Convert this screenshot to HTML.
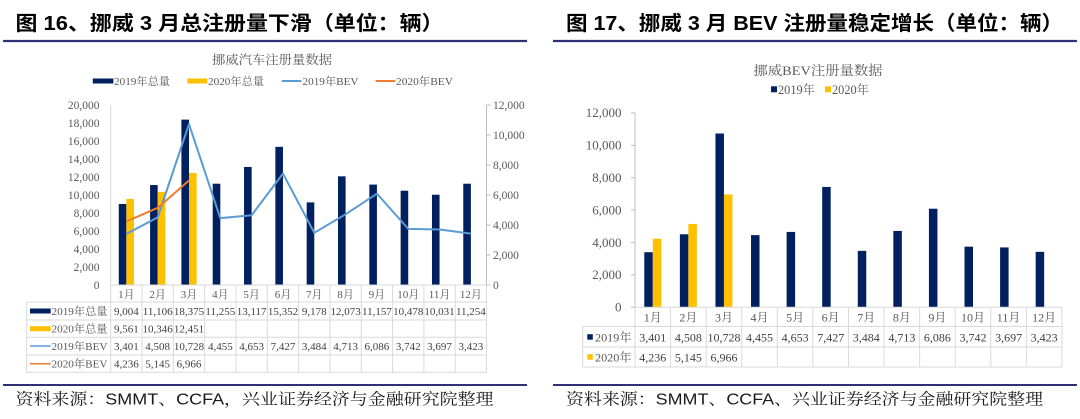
<!DOCTYPE html>
<html>
<head>
<meta charset="utf-8">
<style>
html,body{margin:0;padding:0;background:#fff;}
svg{display:block;}
.t{font-family:"Liberation Sans","Noto Sans CJK SC",sans-serif;font-weight:bold;fill:#000;}
.s{font-family:"Liberation Sans","Noto Serif CJK SC",serif;fill:#1a1a1a;}
.c{font-family:"Liberation Serif","Noto Serif CJK SC",serif;fill:#595959;}
.v{font-family:"Liberation Serif","Noto Serif CJK SC",serif;fill:#404040;}
</style>
</head>
<body>
<svg width="1080" height="419" viewBox="0 0 1080 419" xmlns="http://www.w3.org/2000/svg">
<rect width="1080" height="419" fill="#fff"/>

<!-- ============ LEFT PANEL ============ -->
<text class="t" x="15.5" y="30" font-size="20" textLength="428" lengthAdjust="spacingAndGlyphs">图 16、挪威 3 月总注册量下滑（单位：辆）</text>
<line x1="3" y1="41" x2="527" y2="41" stroke="#2E3272" stroke-width="2.2"/>

<text class="c" x="272" y="64" font-size="12.5" text-anchor="middle" textLength="120" lengthAdjust="spacingAndGlyphs">挪威汽车注册量数据</text>

<!-- legend -->
<rect x="92.8" y="78.5" width="20.6" height="5" fill="#002060"/>
<text class="c" x="114" y="85" font-size="11" textLength="56" lengthAdjust="spacingAndGlyphs">2019年总量</text>
<rect x="187.3" y="78.5" width="20" height="5" fill="#FFC000"/>
<text class="c" x="208" y="85" font-size="11" textLength="56" lengthAdjust="spacingAndGlyphs">2020年总量</text>
<line x1="281.8" y1="81" x2="301.4" y2="81" stroke="#5B9BD5" stroke-width="2"/>
<text class="c" x="302.5" y="85" font-size="11" textLength="56" lengthAdjust="spacingAndGlyphs">2019年BEV</text>
<line x1="375.6" y1="81" x2="395.2" y2="81" stroke="#ED7D31" stroke-width="2"/>
<text class="c" x="396" y="85" font-size="11" textLength="57" lengthAdjust="spacingAndGlyphs">2020年BEV</text>

<!-- left axis labels -->
<g class="c" font-size="11.5" text-anchor="end">
<text x="99.5" y="289">0</text>
<text x="99.5" y="271">2,000</text>
<text x="99.5" y="253">4,000</text>
<text x="99.5" y="235">6,000</text>
<text x="99.5" y="217">8,000</text>
<text x="99.5" y="199">10,000</text>
<text x="99.5" y="181">12,000</text>
<text x="99.5" y="163">14,000</text>
<text x="99.5" y="145">16,000</text>
<text x="99.5" y="127">18,000</text>
<text x="99.5" y="109">20,000</text>
</g>
<!-- right axis labels -->
<g class="c" font-size="11.5" text-anchor="start">
<text x="493" y="289">0</text>
<text x="493" y="259">2,000</text>
<text x="493" y="229">4,000</text>
<text x="493" y="199">6,000</text>
<text x="493" y="169">8,000</text>
<text x="493" y="139">10,000</text>
<text x="493" y="109">12,000</text>
</g>
<!-- axes -->
<line x1="110.7" y1="105" x2="110.7" y2="285" stroke="#d9d9d9" stroke-width="1"/>
<line x1="486.5" y1="105" x2="486.5" y2="285" stroke="#bfbfbf" stroke-width="1"/>
<g stroke="#bfbfbf" stroke-width="1">
<line x1="486.5" y1="285" x2="490.5" y2="285"/>
<line x1="486.5" y1="255" x2="490.5" y2="255"/>
<line x1="486.5" y1="225" x2="490.5" y2="225"/>
<line x1="486.5" y1="195" x2="490.5" y2="195"/>
<line x1="486.5" y1="165" x2="490.5" y2="165"/>
<line x1="486.5" y1="135" x2="490.5" y2="135"/>
<line x1="486.5" y1="105" x2="490.5" y2="105"/>
</g>

<!-- bars 2019 -->
<g fill="#002060">
<rect x="118.76" y="203.96" width="7.6" height="81.04"/>
<rect x="150.08" y="185.05" width="7.6" height="99.95"/>
<rect x="181.40" y="119.62" width="7.6" height="165.38"/>
<rect x="212.72" y="183.70" width="7.6" height="101.30"/>
<rect x="244.04" y="166.95" width="7.6" height="118.05"/>
<rect x="275.36" y="146.83" width="7.6" height="138.17"/>
<rect x="306.68" y="202.40" width="7.6" height="82.60"/>
<rect x="338.00" y="176.34" width="7.6" height="108.66"/>
<rect x="369.32" y="184.59" width="7.6" height="100.41"/>
<rect x="400.64" y="190.70" width="7.6" height="94.30"/>
<rect x="431.96" y="194.72" width="7.6" height="90.28"/>
<rect x="463.28" y="183.71" width="7.6" height="101.29"/>
</g>
<!-- bars 2020 -->
<g fill="#FFC000">
<rect x="126.36" y="198.95" width="7.6" height="86.05"/>
<rect x="157.68" y="191.89" width="7.6" height="93.11"/>
<rect x="189.00" y="172.94" width="7.6" height="112.06"/>
</g>
<!-- lines -->
<polyline fill="none" stroke="#5B9BD5" stroke-width="2" stroke-linejoin="round"
 points="126.36,233.98 157.68,217.38 189.00,124.08 220.32,218.17 251.64,215.20 282.96,173.59 314.28,232.74 345.60,214.30 376.92,193.71 408.24,228.87 439.56,229.54 470.88,233.65"/>
<polyline fill="none" stroke="#ED7D31" stroke-width="2" stroke-linejoin="round"
 points="126.36,221.46 157.68,207.82 189.00,180.51"/>

<!-- table grid -->
<g stroke="#d9d9d9" stroke-width="1">
<line x1="110.7" y1="285" x2="486.5" y2="285"/>
<line x1="26.7" y1="302" x2="486.5" y2="302"/>
<line x1="26.7" y1="320" x2="486.5" y2="320"/>
<line x1="26.7" y1="337.3" x2="486.5" y2="337.3"/>
<line x1="26.7" y1="355" x2="486.5" y2="355"/>
<line x1="26.7" y1="372.3" x2="486.5" y2="372.3"/>
<line x1="26.7" y1="302" x2="26.7" y2="372.3"/>
<line x1="110.7" y1="285" x2="110.7" y2="372.3"/>
<line x1="142.02" y1="285" x2="142.02" y2="372.3"/>
<line x1="173.34" y1="285" x2="173.34" y2="372.3"/>
<line x1="204.66" y1="285" x2="204.66" y2="372.3"/>
<line x1="235.98" y1="285" x2="235.98" y2="372.3"/>
<line x1="267.30" y1="285" x2="267.30" y2="372.3"/>
<line x1="298.62" y1="285" x2="298.62" y2="372.3"/>
<line x1="329.94" y1="285" x2="329.94" y2="372.3"/>
<line x1="361.26" y1="285" x2="361.26" y2="372.3"/>
<line x1="392.58" y1="285" x2="392.58" y2="372.3"/>
<line x1="423.90" y1="285" x2="423.90" y2="372.3"/>
<line x1="455.22" y1="285" x2="455.22" y2="372.3"/>
<line x1="486.54" y1="285" x2="486.54" y2="372.3"/>
</g>
<!-- month labels -->
<g class="c" font-size="11" text-anchor="middle">
<text x="126.36" y="298">1月</text>
<text x="157.68" y="298">2月</text>
<text x="189.00" y="298">3月</text>
<text x="220.32" y="298">4月</text>
<text x="251.64" y="298">5月</text>
<text x="282.96" y="298">6月</text>
<text x="314.28" y="298">7月</text>
<text x="345.60" y="298">8月</text>
<text x="376.92" y="298">9月</text>
<text x="408.24" y="298">10月</text>
<text x="439.56" y="298">11月</text>
<text x="470.88" y="298">12月</text>
</g>
<!-- row keys -->
<rect x="30" y="308.5" width="20.7" height="5" fill="#002060"/>
<rect x="30" y="326.2" width="20.7" height="5" fill="#FFC000"/>
<line x1="30" y1="346" x2="50.7" y2="346" stroke="#5B9BD5" stroke-width="1.5"/>
<line x1="30" y1="363.7" x2="50.7" y2="363.7" stroke="#ED7D31" stroke-width="1.5"/>
<g class="c" font-size="11">
<text x="51.5" y="315" textLength="56" lengthAdjust="spacingAndGlyphs">2019年总量</text>
<text x="51.5" y="332.7" textLength="56" lengthAdjust="spacingAndGlyphs">2020年总量</text>
<text x="51.5" y="350" textLength="56" lengthAdjust="spacingAndGlyphs">2019年BEV</text>
<text x="51.5" y="367.7" textLength="56" lengthAdjust="spacingAndGlyphs">2020年BEV</text>
</g>
<!-- values -->
<g class="v" font-size="11" text-anchor="middle">
<text x="126.36" y="315">9,004</text>
<text x="157.68" y="315">11,106</text>
<text x="189.00" y="315">18,375</text>
<text x="220.32" y="315">11,255</text>
<text x="251.64" y="315">13,117</text>
<text x="282.96" y="315">15,352</text>
<text x="314.28" y="315">9,178</text>
<text x="345.60" y="315">12,073</text>
<text x="376.92" y="315">11,157</text>
<text x="408.24" y="315">10,478</text>
<text x="439.56" y="315">10,031</text>
<text x="470.88" y="315">11,254</text>
<text x="126.36" y="332.7">9,561</text>
<text x="157.68" y="332.7">10,346</text>
<text x="189.00" y="332.7">12,451</text>
<text x="126.36" y="350">3,401</text>
<text x="157.68" y="350">4,508</text>
<text x="189.00" y="350">10,728</text>
<text x="220.32" y="350">4,455</text>
<text x="251.64" y="350">4,653</text>
<text x="282.96" y="350">7,427</text>
<text x="314.28" y="350">3,484</text>
<text x="345.60" y="350">4,713</text>
<text x="376.92" y="350">6,086</text>
<text x="408.24" y="350">3,742</text>
<text x="439.56" y="350">3,697</text>
<text x="470.88" y="350">3,423</text>
<text x="126.36" y="367.7">4,236</text>
<text x="157.68" y="367.7">5,145</text>
<text x="189.00" y="367.7">6,966</text>
</g>

<line x1="3" y1="385" x2="527" y2="385" stroke="#2E3272" stroke-width="2"/>
<text class="s" x="15.5" y="404.5" font-size="16" textLength="478" lengthAdjust="spacingAndGlyphs">资料来源：SMMT、CCFA，兴业证券经济与金融研究院整理</text>

<!-- ============ RIGHT PANEL ============ -->
<text class="t" x="566" y="30" font-size="20" textLength="497" lengthAdjust="spacingAndGlyphs">图 17、挪威 3 月 BEV 注册量稳定增长（单位：辆）</text>
<line x1="553" y1="41" x2="1077" y2="41" stroke="#2E3272" stroke-width="2.2"/>

<text class="c" x="818" y="75" font-size="13" text-anchor="middle" textLength="129" lengthAdjust="spacingAndGlyphs">挪威BEV注册量数据</text>

<rect x="771" y="86.3" width="6" height="6" fill="#002060"/>
<text class="c" x="778" y="93.8" font-size="12.5" textLength="37" lengthAdjust="spacingAndGlyphs">2019年</text>
<rect x="825" y="86.3" width="6" height="6" fill="#FFC000"/>
<text class="c" x="832" y="93.8" font-size="12.5" textLength="37" lengthAdjust="spacingAndGlyphs">2020年</text>

<g class="c" font-size="13" text-anchor="end">
<text x="621.5" y="311.6">0</text>
<text x="621.5" y="279.2">2,000</text>
<text x="621.5" y="246.8">4,000</text>
<text x="621.5" y="214.4">6,000</text>
<text x="621.5" y="182.0">8,000</text>
<text x="621.5" y="149.6">10,000</text>
<text x="621.5" y="117.2">12,000</text>
</g>
<line x1="635" y1="112.9" x2="635" y2="307.3" stroke="#bfbfbf" stroke-width="1"/>
<g stroke="#bfbfbf" stroke-width="1">
<line x1="631" y1="307.3" x2="635" y2="307.3"/>
<line x1="631" y1="274.9" x2="635" y2="274.9"/>
<line x1="631" y1="242.5" x2="635" y2="242.5"/>
<line x1="631" y1="210.1" x2="635" y2="210.1"/>
<line x1="631" y1="177.7" x2="635" y2="177.7"/>
<line x1="631" y1="145.3" x2="635" y2="145.3"/>
<line x1="631" y1="112.9" x2="635" y2="112.9"/>
</g>

<g fill="#002060">
<rect x="644.29" y="252.20" width="8.5" height="55.10"/>
<rect x="679.87" y="234.27" width="8.5" height="73.03"/>
<rect x="715.45" y="133.51" width="8.5" height="173.79"/>
<rect x="751.03" y="235.13" width="8.5" height="72.17"/>
<rect x="786.61" y="231.92" width="8.5" height="75.38"/>
<rect x="822.19" y="186.98" width="8.5" height="120.32"/>
<rect x="857.77" y="250.86" width="8.5" height="56.44"/>
<rect x="893.35" y="230.95" width="8.5" height="76.35"/>
<rect x="928.93" y="208.71" width="8.5" height="98.59"/>
<rect x="964.51" y="246.68" width="8.5" height="60.62"/>
<rect x="1000.09" y="247.41" width="8.5" height="59.89"/>
<rect x="1035.67" y="251.85" width="8.5" height="55.45"/>
</g>
<g fill="#FFC000">
<rect x="652.79" y="238.68" width="8.5" height="68.62"/>
<rect x="688.37" y="223.95" width="8.5" height="83.35"/>
<rect x="723.95" y="194.45" width="8.5" height="112.85"/>
</g>

<g stroke="#d9d9d9" stroke-width="1">
<line x1="635" y1="307.3" x2="1062" y2="307.3"/>
<line x1="582.7" y1="326.5" x2="1062" y2="326.5"/>
<line x1="582.7" y1="347" x2="1062" y2="347"/>
<line x1="582.7" y1="367" x2="1062" y2="367"/>
<line x1="582.7" y1="326.5" x2="582.7" y2="367"/>
<line x1="635" y1="307.3" x2="635" y2="367"/>
<line x1="670.58" y1="307.3" x2="670.58" y2="367"/>
<line x1="706.16" y1="307.3" x2="706.16" y2="367"/>
<line x1="741.74" y1="307.3" x2="741.74" y2="367"/>
<line x1="777.32" y1="307.3" x2="777.32" y2="367"/>
<line x1="812.90" y1="307.3" x2="812.90" y2="367"/>
<line x1="848.48" y1="307.3" x2="848.48" y2="367"/>
<line x1="884.06" y1="307.3" x2="884.06" y2="367"/>
<line x1="919.64" y1="307.3" x2="919.64" y2="367"/>
<line x1="955.22" y1="307.3" x2="955.22" y2="367"/>
<line x1="990.80" y1="307.3" x2="990.80" y2="367"/>
<line x1="1026.38" y1="307.3" x2="1026.38" y2="367"/>
<line x1="1061.96" y1="307.3" x2="1061.96" y2="367"/>
</g>
<g class="c" font-size="12" text-anchor="middle">
<text x="652.79" y="321.3">1月</text>
<text x="688.37" y="321.3">2月</text>
<text x="723.95" y="321.3">3月</text>
<text x="759.53" y="321.3">4月</text>
<text x="795.11" y="321.3">5月</text>
<text x="830.69" y="321.3">6月</text>
<text x="866.27" y="321.3">7月</text>
<text x="901.85" y="321.3">8月</text>
<text x="937.43" y="321.3">9月</text>
<text x="973.01" y="321.3">10月</text>
<text x="1008.59" y="321.3">11月</text>
<text x="1044.17" y="321.3">12月</text>
</g>
<rect x="587.3" y="334.2" width="5.5" height="5.5" fill="#002060"/>
<rect x="587.3" y="354.2" width="5.5" height="5.5" fill="#FFC000"/>
<g class="c" font-size="12">
<text x="595" y="341.3" textLength="36.5" lengthAdjust="spacingAndGlyphs">2019年</text>
<text x="595" y="361.3" textLength="36.5" lengthAdjust="spacingAndGlyphs">2020年</text>
</g>
<g class="v" font-size="12" text-anchor="middle">
<text x="652.79" y="341.3">3,401</text>
<text x="688.37" y="341.3">4,508</text>
<text x="723.95" y="341.3">10,728</text>
<text x="759.53" y="341.3">4,455</text>
<text x="795.11" y="341.3">4,653</text>
<text x="830.69" y="341.3">7,427</text>
<text x="866.27" y="341.3">3,484</text>
<text x="901.85" y="341.3">4,713</text>
<text x="937.43" y="341.3">6,086</text>
<text x="973.01" y="341.3">3,742</text>
<text x="1008.59" y="341.3">3,697</text>
<text x="1044.17" y="341.3">3,423</text>
<text x="652.79" y="361.3">4,236</text>
<text x="688.37" y="361.3">5,145</text>
<text x="723.95" y="361.3">6,966</text>
</g>

<line x1="553" y1="385" x2="1077" y2="385" stroke="#2E3272" stroke-width="2"/>
<text class="s" x="566" y="404.5" font-size="16" textLength="477" lengthAdjust="spacingAndGlyphs">资料来源：SMMT、CCFA、兴业证券经济与金融研究院整理</text>
</svg>
</body>
</html>
